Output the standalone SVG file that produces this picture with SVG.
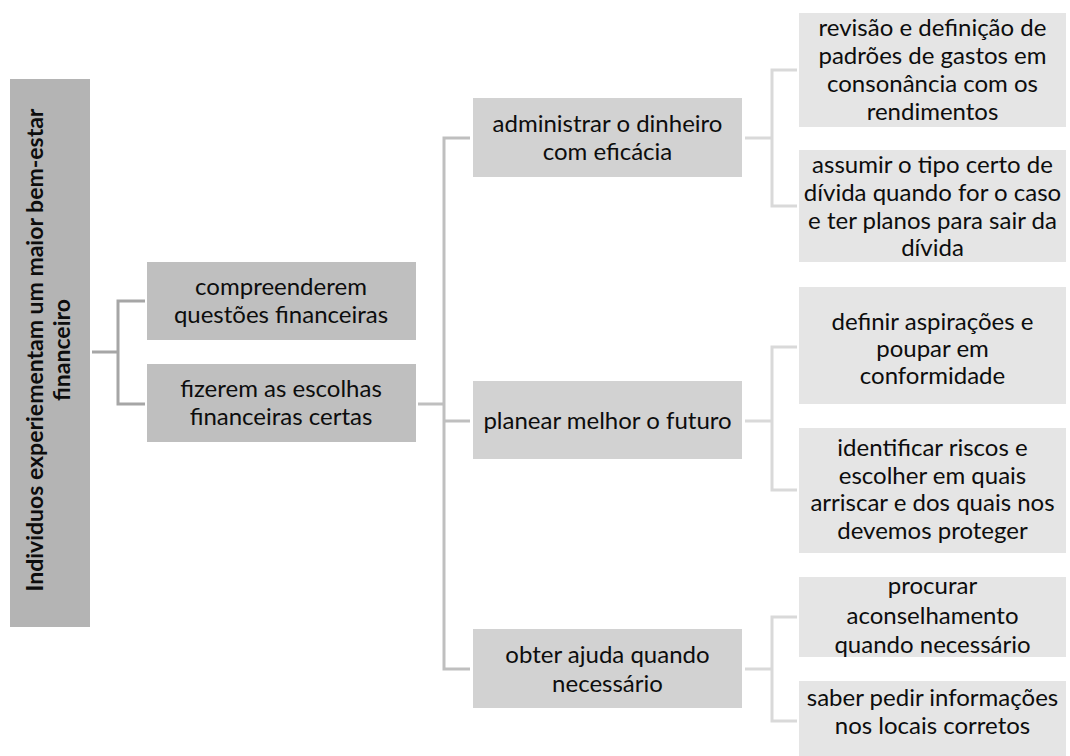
<svg xmlns="http://www.w3.org/2000/svg" width="1070" height="756" viewBox="0 0 1070 756">
<style>
  text { font-family: Lato, "Liberation Sans", sans-serif; font-size: 24px; fill: #0d0d0d; text-anchor: middle; }
  .root rect { fill: #b4b4b4; }
  .l1 rect { fill: #bfbfbf; }
  .l2 rect { fill: #d2d2d2; }
  .l3 rect { fill: #e5e5e5; }
  .rt { font-weight: bold; font-size: 23px; }
  .c0 { stroke: #a6a6a6; stroke-width: 3; fill: none; }
  .c1 { stroke: #bfbfbf; stroke-width: 3; fill: none; }
  .c2 { stroke: #d9d9d9; stroke-width: 3; fill: none; }
</style>
<rect width="1070" height="756" fill="#ffffff"/>
<g id="connectors">
  <path class="c0" d="M92 352 H118 M145 301 H118 V404 H145"/>
  <path class="c1" d="M418 404 H444 M470 138 H444 V669 H470 M444 421 H470"/>
  <path class="c2" d="M745 138 H772 M797 70 H772 V206 H797"/>
  <path class="c2" d="M745 421 H772 M797 347 H772 V490 H797"/>
  <path class="c2" d="M745 669 H772 M797 617 H772 V721 H797"/>
</g>
<g id="root" class="root">
  <rect x="10" y="79" width="80" height="548"/>
  <text class="rt" transform="translate(50,350) rotate(-90)"><tspan x="0" y="-7">Individuos experiementam um maior bem-estar</tspan><tspan x="0" y="20">financeiro</tspan></text>
</g>
<g id="n-compreenderem" class="l1">
  <rect x="147" y="262" width="269" height="78"/>
  <text><tspan x="281" y="295">compreenderem</tspan><tspan x="281" y="323">questões financeiras</tspan></text>
</g>
<g id="n-fizerem" class="l1">
  <rect x="147" y="364" width="269" height="78"/>
  <text><tspan x="281" y="397">fizerem as escolhas</tspan><tspan x="281" y="425">financeiras certas</tspan></text>
</g>
<g id="n-administrar" class="l2">
  <rect x="473" y="98" width="269" height="79"/>
  <text><tspan x="607.5" y="132">administrar o dinheiro</tspan><tspan x="607.5" y="160">com eficácia</tspan></text>
</g>
<g id="n-planear" class="l2">
  <rect x="473" y="381" width="269" height="78"/>
  <text><tspan x="607.5" y="429">planear melhor o futuro</tspan></text>
</g>
<g id="n-obter" class="l2">
  <rect x="473" y="629" width="269" height="79"/>
  <text><tspan x="607.5" y="663">obter ajuda quando</tspan><tspan x="607.5" y="692">necessário</tspan></text>
</g>
<g id="n-revisao" class="l3">
  <rect x="799" y="13" width="267" height="114"/>
  <text><tspan x="932.5" y="36">revisão e definição de</tspan><tspan x="932.5" y="64">padrões de gastos em</tspan><tspan x="932.5" y="92">consonância com os</tspan><tspan x="932.5" y="120">rendimentos</tspan></text>
</g>
<g id="n-assumir" class="l3">
  <rect x="799" y="150" width="267" height="112"/>
  <text><tspan x="932.5" y="173">assumir o tipo certo de</tspan><tspan x="932.5" y="201">dívida quando for o caso</tspan><tspan x="932.5" y="229">e ter planos para sair da</tspan><tspan x="932.5" y="256">dívida</tspan></text>
</g>
<g id="n-definir" class="l3">
  <rect x="799" y="287" width="267" height="117"/>
  <text><tspan x="932.5" y="330">definir aspirações e</tspan><tspan x="932.5" y="357">poupar em</tspan><tspan x="932.5" y="384">conformidade</tspan></text>
</g>
<g id="n-identificar" class="l3">
  <rect x="799" y="428" width="267" height="125"/>
  <text><tspan x="932.5" y="456">identificar riscos e</tspan><tspan x="932.5" y="484">escolher em quais</tspan><tspan x="932.5" y="511">arriscar e dos quais nos</tspan><tspan x="932.5" y="539">devemos proteger</tspan></text>
</g>
<g id="n-procurar" class="l3">
  <rect x="799" y="577" width="267" height="80"/>
  <text><tspan x="932.5" y="594">procurar</tspan><tspan x="932.5" y="624">aconselhamento</tspan><tspan x="932.5" y="653">quando necessário</tspan></text>
</g>
<g id="n-saber" class="l3">
  <rect x="799" y="681" width="267" height="75"/>
  <text><tspan x="932.5" y="706">saber pedir informações</tspan><tspan x="932.5" y="734">nos locais corretos</tspan></text>
</g>
</svg>
